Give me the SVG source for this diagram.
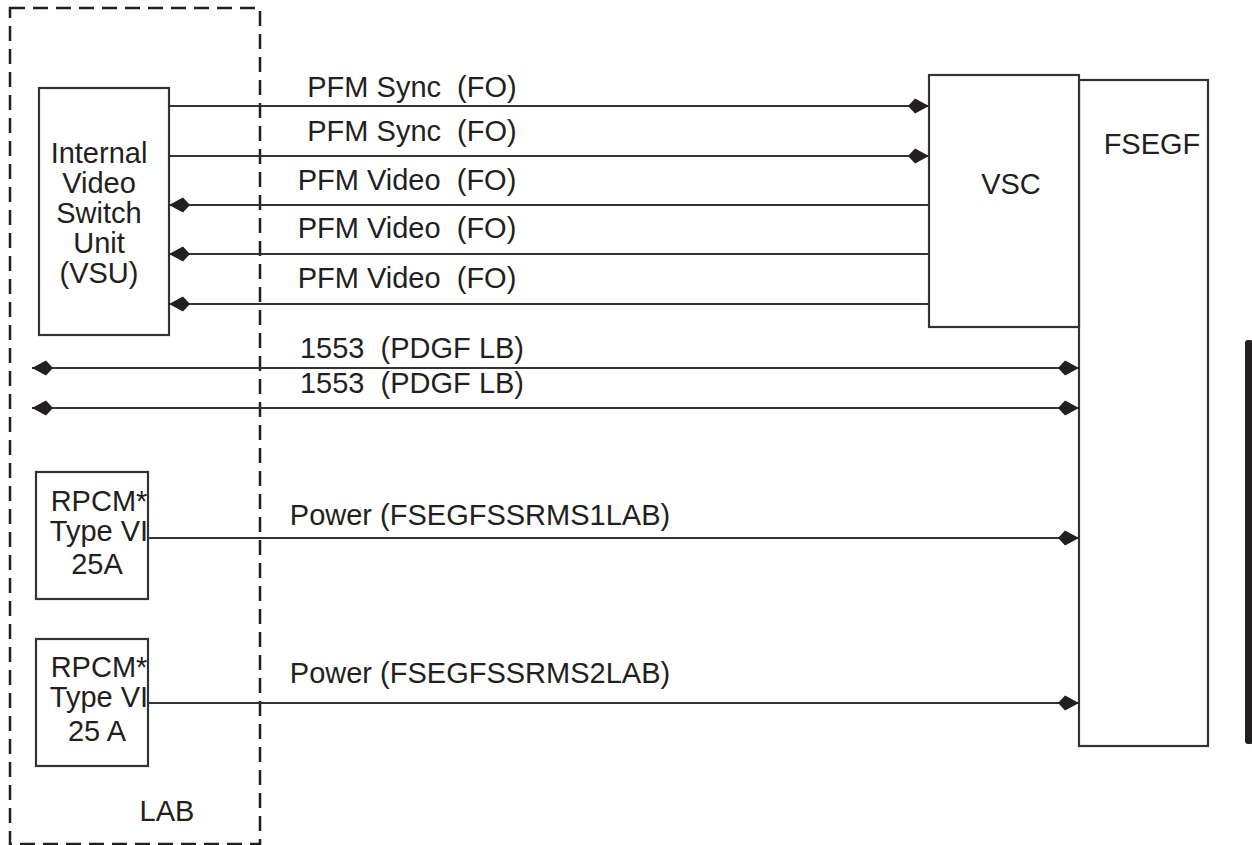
<svg xmlns="http://www.w3.org/2000/svg" width="1252" height="845" viewBox="0 0 1252 845">
<defs>
<style>
.box{fill:#fff;stroke:#333;stroke-width:2.2}
.ln{fill:none;stroke:#333;stroke-width:2.2}
.t{font-family:"Liberation Sans",Arial,sans-serif;font-size:29px;fill:#231f20}
.m{text-anchor:middle}
</style>
<marker id="ah" viewBox="-24 -9 25 18" refX="0" refY="0" markerWidth="25" markerHeight="18" markerUnits="userSpaceOnUse" orient="auto-start-reverse">
<path d="M0,0 L-14,-7.5 L-21,0 L-14,7.5 Z" fill="#231f20"/>
</marker>
</defs>
<rect width="1252" height="845" fill="#fff"/>
<g id="lab">
<rect x="10" y="8" width="250" height="836" fill="none" stroke="#231f20" stroke-width="2.5" stroke-dasharray="15 8"/>
<text class="t m" x="167" y="821">LAB</text>
</g>
<g id="vsu">
<rect class="box" x="39" y="88" width="130" height="247"/>
<text class="t m" x="99" y="163">Internal</text>
<text class="t m" x="99" y="193">Video</text>
<text class="t m" x="99" y="223">Switch</text>
<text class="t m" x="99" y="253">Unit</text>
<text class="t m" x="99" y="283">(VSU)</text>
</g>
<g id="rpcm1">
<rect class="box" x="36" y="472" width="112" height="127"/>
<text class="t m" x="99" y="511">RPCM*</text>
<text class="t m" x="99" y="541">Type VI</text>
<text class="t m" x="97" y="574">25A</text>
</g>
<g id="rpcm2">
<rect class="box" x="36" y="639" width="112" height="127"/>
<text class="t m" x="99" y="677">RPCM*</text>
<text class="t m" x="99" y="707">Type VI</text>
<text class="t m" x="97" y="741">25 A</text>
</g>
<g id="fsegf">
<rect class="box" x="1079" y="80" width="129" height="666"/>
<text class="t m" x="1152" y="154">FSEGF</text>
</g>
<g id="vsc">
<rect class="box" x="929" y="75" width="150" height="252"/>
<text class="t m" x="1011" y="194">VSC</text>
</g>
<g id="connectors">
<line class="ln" x1="169" y1="106" x2="929" y2="106" marker-end="url(#ah)"/>
<line class="ln" x1="169" y1="156" x2="929" y2="156" marker-end="url(#ah)"/>
<line class="ln" x1="929" y1="205" x2="169" y2="205" marker-end="url(#ah)"/>
<line class="ln" x1="929" y1="254" x2="169" y2="254" marker-end="url(#ah)"/>
<line class="ln" x1="929" y1="304" x2="169" y2="304" marker-end="url(#ah)"/>
<line class="ln" x1="32" y1="368" x2="1079" y2="368" marker-start="url(#ah)" marker-end="url(#ah)"/>
<line class="ln" x1="32" y1="408" x2="1079" y2="408" marker-start="url(#ah)" marker-end="url(#ah)"/>
<line class="ln" x1="148" y1="538" x2="1079" y2="538" marker-end="url(#ah)"/>
<line class="ln" x1="148" y1="703" x2="1079" y2="703" marker-end="url(#ah)"/>
<text class="t m" x="412" y="97" xml:space="preserve">PFM Sync  (FO)</text>
<text class="t m" x="412" y="141" xml:space="preserve">PFM Sync  (FO)</text>
<text class="t m" x="407" y="190" xml:space="preserve">PFM Video  (FO)</text>
<text class="t m" x="407" y="238" xml:space="preserve">PFM Video  (FO)</text>
<text class="t m" x="407" y="288" xml:space="preserve">PFM Video  (FO)</text>
<text class="t m" x="412" y="358" xml:space="preserve">1553  (PDGF LB)</text>
<text class="t m" x="412" y="393" xml:space="preserve">1553  (PDGF LB)</text>
<text class="t m" x="480" y="525">Power (FSEGFSSRMS1LAB)</text>
<text class="t m" x="480" y="683">Power (FSEGFSSRMS2LAB)</text>
</g>
<rect x="1245" y="340" width="8" height="404" rx="3" fill="#231f20"/>
</svg>
